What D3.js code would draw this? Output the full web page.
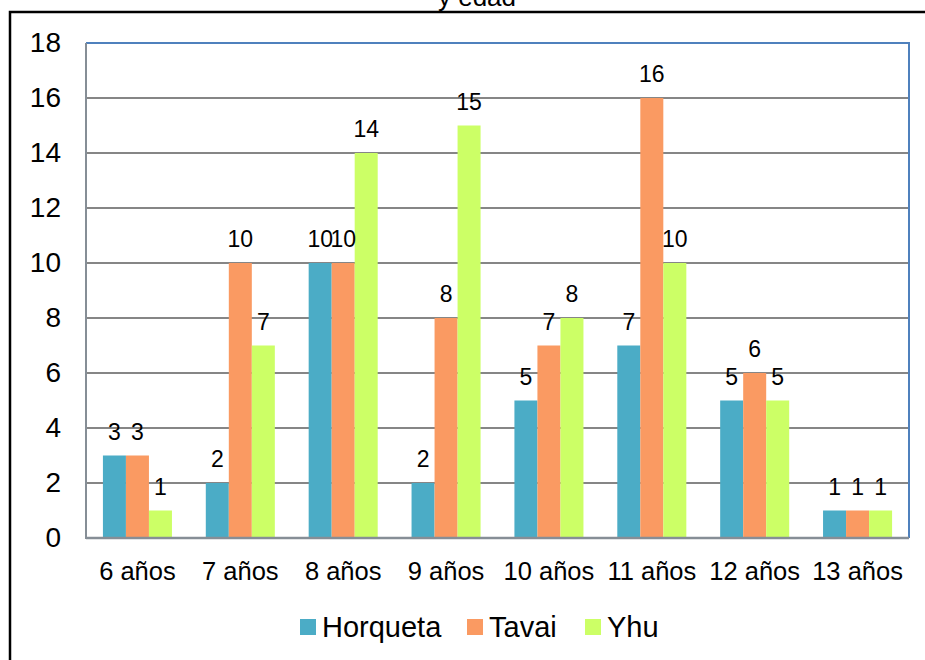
<!DOCTYPE html>
<html>
<head>
<meta charset="utf-8">
<script src="https://cdn.jsdelivr.net/npm/d3@7"></script>
<style>
  html, body { margin: 0; padding: 0; background: #fff; }
  svg { display: block; font-family: "Liberation Sans", Arial, sans-serif; }
</style>
</head>
<body>
<svg id="chart" width="925" height="660"></svg>
<script>
const categories = ["6 años", "7 años", "8 años", "9 años", "10 años", "11 años", "12 años", "13 años"];
const seriesNames = ["Horqueta", "Tavai", "Yhu"];
const horqueta = [3, 2, 10, 2, 5, 7, 5, 1];
const tavai = [3, 10, 10, 8, 7, 16, 6, 1];
const yhu = [1, 7, 14, 15, 8, 10, 5, 1];
const yTicks = [0, 2, 4, 6, 8, 10, 12, 14, 16, 18];
const colors = ["#4BACC6", "#FA9A62", "#CCFF66"];
const titleText = "y edad";

const seriesValues = [horqueta, tavai, yhu];
const svg = d3.select("#chart");

// outer chart-area border
svg.append("rect")
  .attr("x", 10).attr("y", 12)
  .attr("width", 940).attr("height", 680)
  .attr("fill", "none").attr("stroke", "#000").attr("stroke-width", 2.5);

// title (partially cut at the top edge, as in the reference)
svg.append("text")
  .attr("x", 477).attr("y", 6)
  .attr("text-anchor", "middle")
  .attr("font-size", 26)
  .attr("fill", "#000")
  .text(titleText);

const plot = { left: 86, right: 909, top: 43, bottom: 538 };

const x0 = d3.scaleBand()
  .domain(categories)
  .range([plot.left, plot.right])
  .paddingInner(0.329)
  .paddingOuter(0.329 / 2);

const x1 = d3.scaleBand()
  .domain(seriesNames)
  .range([0, x0.bandwidth()])
  .padding(0);

const y = d3.scaleLinear()
  .domain([0, 18])
  .range([plot.bottom, plot.top]);

// gridlines
svg.append("g")
  .selectAll("line")
  .data(yTicks.filter(t => t > 0 && t < 18))
  .join("line")
  .attr("x1", plot.left).attr("x2", plot.right)
  .attr("y1", d => y(d)).attr("y2", d => y(d))
  .attr("stroke", "#868686").attr("stroke-width", 2);

// plot border: top and right blue
svg.append("line")
  .attr("x1", plot.left).attr("x2", plot.right + 1)
  .attr("y1", y(18)).attr("y2", y(18))
  .attr("stroke", "#4F81BD").attr("stroke-width", 2);
svg.append("line")
  .attr("x1", plot.right).attr("x2", plot.right)
  .attr("y1", y(18)).attr("y2", y(0))
  .attr("stroke", "#4F81BD").attr("stroke-width", 2);

// y axis with labels
const yAxis = d3.axisLeft(y).tickValues(yTicks).tickSize(0).tickPadding(25);
const yg = svg.append("g")
  .attr("transform", `translate(${plot.left},0)`)
  .call(yAxis);
yg.select(".domain").remove();
yg.selectAll("text")
  .attr("font-size", 28)
  .attr("font-family", "Liberation Sans, Arial, sans-serif")
  .attr("fill", "#000");

// bars
const groups = svg.append("g")
  .selectAll("g")
  .data(categories)
  .join("g")
  .attr("transform", c => `translate(${x0(c)},0)`);

groups.selectAll("rect")
  .data((c, i) => seriesNames.map((s, k) => ({ s, k, v: seriesValues[k][i] })))
  .join("rect")
  .attr("x", d => x1(d.s))
  .attr("y", d => y(d.v))
  .attr("width", x1.bandwidth())
  .attr("height", d => y(0) - y(d.v))
  .attr("fill", d => colors[d.k]);

groups.selectAll("text")
  .data((c, i) => seriesNames.map((s, k) => ({ s, k, v: seriesValues[k][i] })))
  .join("text")
  .attr("x", d => x1(d.s) + x1.bandwidth() / 2)
  .attr("y", d => y(d.v) - 16)
  .attr("text-anchor", "middle")
  .attr("font-size", 23)
  .attr("fill", "#000")
  .text(d => d.v);

// left and bottom axis lines (grey)
svg.append("line")
  .attr("x1", plot.left).attr("x2", plot.left)
  .attr("y1", y(18)).attr("y2", y(0) + 1)
  .attr("stroke", "#868E96").attr("stroke-width", 2);
svg.append("line")
  .attr("x1", plot.left).attr("x2", plot.right)
  .attr("y1", y(0)).attr("y2", y(0))
  .attr("stroke", "#868E96").attr("stroke-width", 2.5);

// x axis labels
const xAxis = d3.axisBottom(x0).tickSize(0).tickPadding(24);
const xg = svg.append("g")
  .attr("transform", `translate(0,${plot.bottom})`)
  .call(xAxis);
xg.select(".domain").remove();
xg.selectAll("text")
  .attr("font-size", 25.5)
  .attr("font-family", "Liberation Sans, Arial, sans-serif")
  .attr("fill", "#000");

// legend
const legendX = [300, 467, 585];
const legend = svg.append("g");
seriesNames.forEach((s, k) => {
  legend.append("rect")
    .attr("x", legendX[k]).attr("y", 619)
    .attr("width", 16).attr("height", 16)
    .attr("fill", colors[k]);
  legend.append("text")
    .attr("x", legendX[k] + 22).attr("y", 637)
    .attr("font-size", 29)
    .attr("fill", "#000")
    .text(s);
});
</script>
</body>
</html>
